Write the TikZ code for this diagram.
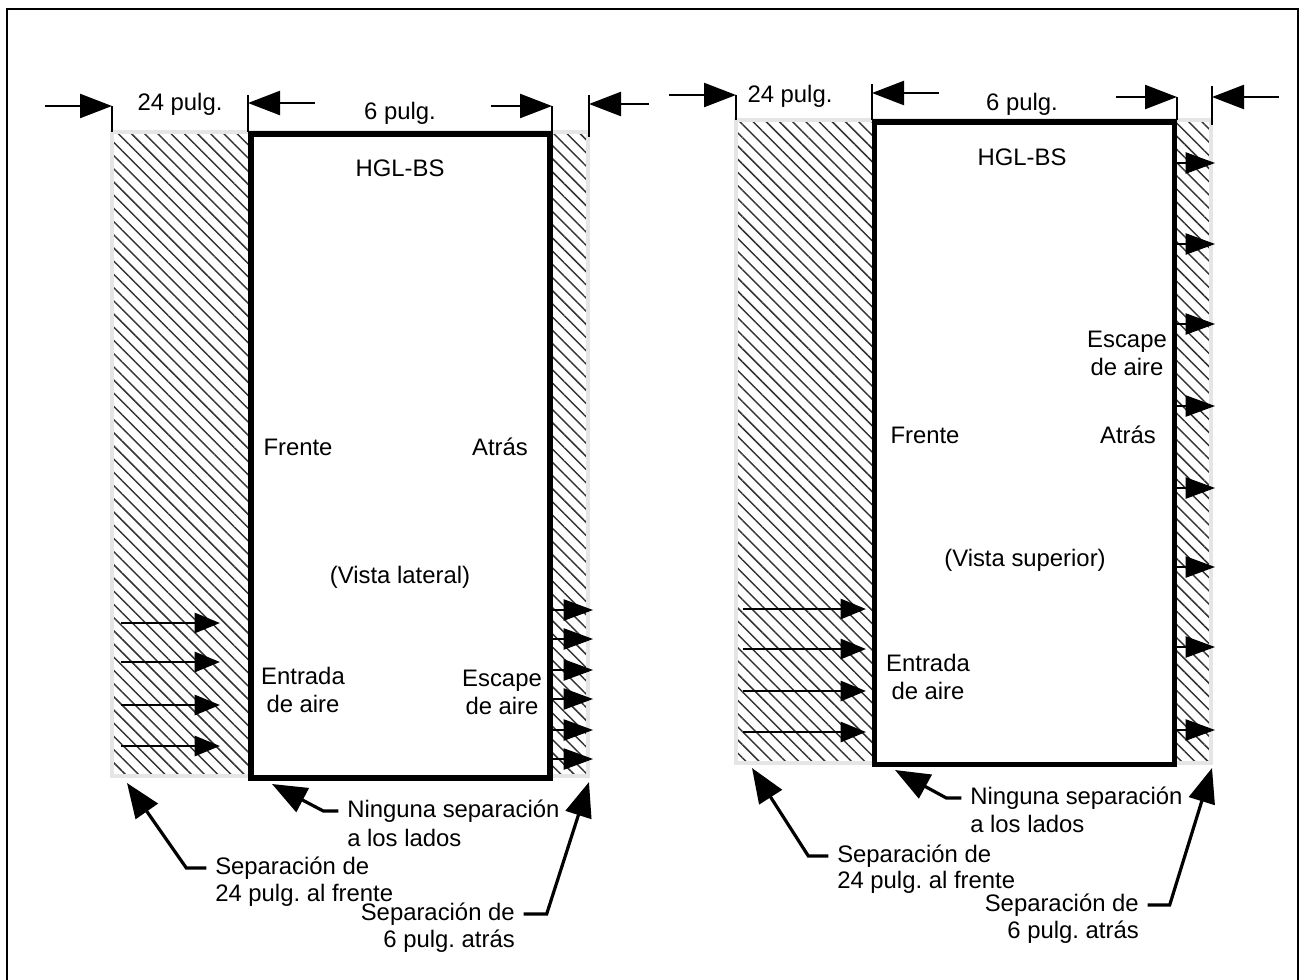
\documentclass[tikz,border=0pt]{standalone}
\usepackage{fontspec}
\setmainfont{Liberation Sans}
\usetikzlibrary{arrows.meta,patterns.meta}
\frenchspacing

\tikzset{
  lbl/.style={font=\fontsize{17.9}{21}\selectfont, inner sep=1.5pt, align=center},
  unitbox/.style={line width=4pt, fill=white},
  zone/.style={draw=black!10, line width=3pt,
    pattern={Lines[angle=-45,distance=7pt,line width=1.1pt]}, pattern color=black!80},
  tick/.style={line width=1.8pt},
  dimarrow/.style={line width=1.8pt, -{Triangle[length=24pt,width=18pt]}},
  inlet/.style={line width=2.1pt, -{Triangle[length=19pt,width=15pt]}},
  outlet/.style={line width=0.8pt, -{Triangle[length=22pt,width=16pt]}},
  callout/.style={line width=2.4pt, -{Triangle[length=26pt,width=20pt]}},
}

\begin{document}
\begin{tikzpicture}[x=0.75pt,y=-0.75pt]
\useasboundingbox (0,0) rectangle (1303,979);
\draw[line width=1.8pt] (7,990) -- (7,9) -- (1298,9) -- (1298,990);

% side view
\draw[zone] (112,132) rectangle (588,776);
\draw[unitbox] (251,134) rectangle (550,778);
\coordinate (dA) at (112,106);
\coordinate (dB) at (248,103);
\coordinate (dC) at (552,106);
\coordinate (dD) at (589,104);
\draw[tick] (112,106) -- (112,132);
\draw[tick] (248,95) -- (248,132);
\draw[tick] (552,106) -- (552,132);
\draw[tick] (589,95) -- (589,137);
\draw[dimarrow] ([xshift=-50pt]dA) -- (dA);
\draw[dimarrow] ([xshift=50pt]dB) -- (dB);
\draw[dimarrow] ([xshift=-46pt]dC) -- (dC);
\draw[dimarrow] ([xshift=45pt]dD) -- (dD);
\node[lbl] (w24L) at (180,104) {24 pulg.};
\node[lbl] (w6L) at (400,113) {6 pulg.};

\node[lbl] (unitL) at (400,168) {HGL-BS};
\node[lbl] (frenteL) at (298,447) {Frente};
\node[lbl] (atrasL) at (500,447) {Atrás};
\node[lbl] (vistaL) at (400,577) {(Vista lateral)};
\node[lbl] (entradaL) at (303,690) {Entrada\\de aire};
\node[lbl] (escapeL) at (502,692) {Escape\\de aire};

\foreach \y in {623,662,705,746}
  \draw[inlet] (121,\y) -- (220,\y);
\foreach \y in {610,639,670,699,730,759}
  \draw[outlet] (552,\y) -- (593,\y);

\coordinate (tipfL) at (127,783);
\coordinate (tipnL) at (272,784);
\coordinate (tipbL) at (589,782);
\node[lbl, anchor=west] (ningL) at (345,811) {Ninguna separación};
\node[lbl, anchor=west] (ladosL) at (345,838) {a los lados};
\node[lbl, anchor=west] (sepfL) at (213,868) {Separación de};
\node[lbl, anchor=west] (frontL) at (213,895) {24 pulg. al frente};
\node[lbl, anchor=east] (sepbL) at (517,914) {Separación de};
\node[lbl, anchor=east] (backL) at (517,941) {6 pulg. atrás};
\draw[callout] ([xshift=-5pt]ningL.west) -- ++(-15,0) -- (tipnL);
\draw[callout] ([xshift=-5pt]sepfL.west) -- ++(-20,0) -- (tipfL);
\draw[callout] ([xshift=5pt]sepbL.east) -- ++(23,0) -- (tipbL);

% top view
\draw[zone] (736,120) rectangle (1211,763);
\draw[unitbox] (874.5,122) rectangle (1174.5,764.5);
\coordinate (dE) at (736,95);
\coordinate (dF) at (872,93);
\coordinate (dG) at (1177,97);
\coordinate (dH) at (1212,97);
\draw[tick] (736,95) -- (736,120);
\draw[tick] (872,84) -- (872,120);
\draw[tick] (1177,97) -- (1177,120);
\draw[tick] (1212,86) -- (1212,125);
\draw[dimarrow] ([xshift=-50pt]dE) -- (dE);
\draw[dimarrow] ([xshift=50pt]dF) -- (dF);
\draw[dimarrow] ([xshift=-46pt]dG) -- (dG);
\draw[dimarrow] ([xshift=50pt]dH) -- (dH);
\node[lbl] (w24R) at (790,96) {24 pulg.};
\node[lbl] (w6R) at (1022,104) {6 pulg.};

\node[lbl] (unitR) at (1022,157) {HGL-BS};
\node[lbl] (escapeR) at (1127,353) {Escape\\de aire};
\node[lbl] (frenteR) at (925,435) {Frente};
\node[lbl] (atrasR) at (1128,435) {Atrás};
\node[lbl] (vistaR) at (1025,560) {(Vista superior)};
\node[lbl] (entradaR) at (928,677) {Entrada\\de aire};

\foreach \y in {609,649,691,732}
  \draw[inlet] (743,\y) -- (866,\y);
\foreach \y in {163,244,324,406,488,567,647,730}
  \draw[outlet] (1177,\y) -- (1215,\y);

\coordinate (tipfR) at (752,768);
\coordinate (tipnR) at (895,770);
\coordinate (tipbR) at (1212,768);
\node[lbl, anchor=west] (ningR) at (968,798) {Ninguna separación};
\node[lbl, anchor=west] (ladosR) at (968,824) {a los lados};
\node[lbl, anchor=west] (sepfR) at (835,856) {Separación de};
\node[lbl, anchor=west] (frontR) at (835,882) {24 pulg. al frente};
\node[lbl, anchor=east] (sepbR) at (1141,905) {Separación de};
\node[lbl, anchor=east] (backR) at (1141,932) {6 pulg. atrás};
\draw[callout] ([xshift=-5pt]ningR.west) -- ++(-15,0) -- (tipnR);
\draw[callout] ([xshift=-5pt]sepfR.west) -- ++(-20,0) -- (tipfR);
\draw[callout] ([xshift=5pt]sepbR.east) -- ++(22,0) -- (tipbR);
\end{tikzpicture}
\end{document}
